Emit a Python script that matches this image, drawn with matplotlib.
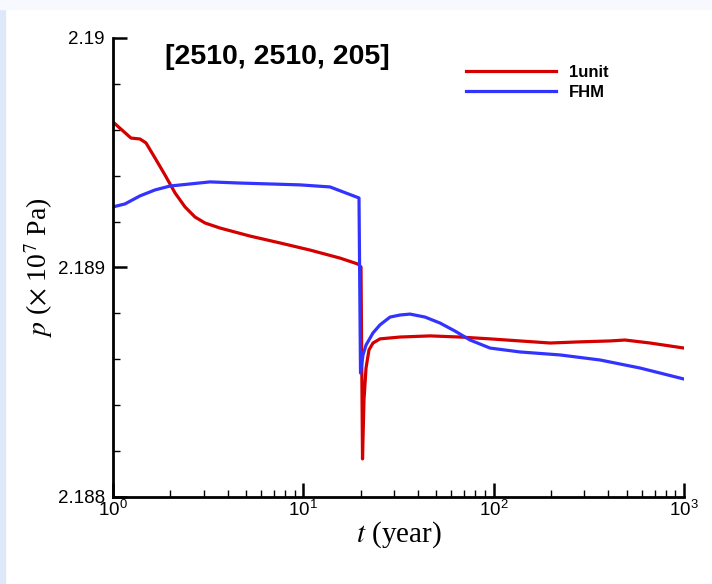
import matplotlib
matplotlib.use("Agg")
import matplotlib.pyplot as plt
from matplotlib.ticker import MultipleLocator, LogLocator, NullFormatter
from matplotlib.patches import Rectangle

# data (t in years, p in 1e7 Pa)
t_1unit = [1.00, 1.115, 1.243, 1.386, 1.490, 1.663, 1.876, 2.118, 2.389, 2.697,
           3.043, 3.649, 5.245, 7.541, 10.84, 15.58, 19.37, 20.09, 20.46, 20.83,
           21.35, 22.13, 23.23, 25.28, 32.20, 46.30, 66.57, 95.68, 137.5, 197.7,
           284.2, 408.6, 489.8, 662.8, 1000.0]
p_1unit = [2.189634, 2.189599, 2.189564, 2.189560, 2.189543, 2.189477, 2.189403,
           2.189325, 2.189264, 2.189220, 2.189194, 2.189172, 2.189137, 2.189107,
           2.189076, 2.189041, 2.189015, 2.189002, 2.188166, 2.188423, 2.188562,
           2.188641, 2.188671, 2.188689, 2.188697, 2.188702, 2.188697, 2.188689,
           2.188680, 2.188671, 2.188676, 2.188680, 2.188684, 2.188671, 2.188649]

t_fhm = [1.00, 1.156, 1.386, 1.663, 1.993, 2.538, 3.233, 4.648, 6.680, 9.605,
         13.81, 19.61, 19.97, 20.58, 21.35, 23.23, 25.28, 28.54, 32.20, 36.35,
         43.58, 52.26, 62.66, 75.13, 95.68, 137.5, 223.2, 362.2, 587.5, 1000.0]
p_fhm = [2.189264, 2.189277, 2.189312, 2.189338, 2.189355, 2.189364, 2.189373,
         2.189368, 2.189364, 2.189360, 2.189351, 2.189303, 2.188540, 2.188619,
         2.188662, 2.188715, 2.188750, 2.188784, 2.188793, 2.188797, 2.188784,
         2.188758, 2.188723, 2.188684, 2.188649, 2.188632, 2.188619, 2.188597,
         2.188562, 2.188514]

y_ticks = [2.188, 2.189, 2.19]
y_labels = ["2.188", "2.189", "2.19"]

plt.rcParams['font.family'] = ['Liberation Sans', 'DejaVu Sans']
plt.rcParams['mathtext.fontset'] = 'stix'

fig = plt.figure(figsize=(7.12, 5.84), dpi=100)
fig.patch.set_facecolor('white')
# pale blue frame on the left and top
fig.patches.append(Rectangle((0, 0), 5 / 712, 1, transform=fig.transFigure,
                             color='#dde9fb', zorder=0))
fig.patches.append(Rectangle((0, 1 - 9 / 584), 1, 9 / 584, transform=fig.transFigure,
                             color='#f7f9fe', zorder=0))

ax = fig.add_axes([113 / 712, 1 - 497 / 584, 571 / 712, 459 / 584])
ax.plot(t_1unit, p_1unit, color='#d40000', lw=2.3, label='1unit')
ax.plot(t_fhm, p_fhm, color='#3333ff', lw=2.3, label='FHM')

ax.set_xscale('log')
ax.set_xlim(1, 1000)
ax.set_ylim(2.188, 2.19)
ax.xaxis.set_minor_locator(LogLocator(base=10, subs=range(2, 10)))
ax.xaxis.set_minor_formatter(NullFormatter())
ax.set_yticks(y_ticks)
ax.set_yticklabels(y_labels)
ax.yaxis.set_minor_locator(MultipleLocator(0.0002))

for s in ['top', 'right']:
    ax.spines[s].set_visible(False)
for s in ['left', 'bottom']:
    ax.spines[s].set_linewidth(2)

ax.tick_params(which='major', direction='in', length=10, width=1.8, labelsize=13.5)
ax.tick_params(which='minor', direction='in', length=5, width=1)
ax.tick_params(axis='x', which='major', pad=2)
ax.tick_params(axis='y', which='major', pad=6)

ax.set_xlabel(r'$t$ (year)', fontsize=21, family='Liberation Serif', va='center')
ax.xaxis.set_label_coords(0.5, -0.083)
ax.set_ylabel(r'$p$ ($\times$ 10$^7$ Pa)', fontsize=20, family='Liberation Serif', va='center')
ax.yaxis.set_label_coords(-0.131, 0.5)

ax.text(0.091, 0.9586, '[2510, 2510, 205]', transform=ax.transAxes, fontsize=20.5,
        fontweight='bold', va='center', ha='left')

ax.legend(loc='center left', bbox_to_anchor=(0.618, 0.904), frameon=False,
          borderpad=0, borderaxespad=0,
          handlelength=5.4, handletextpad=0.8, labelspacing=0.3,
          prop={'weight': 'bold', 'size': 12})

fig.savefig('out.png', dpi=100)
